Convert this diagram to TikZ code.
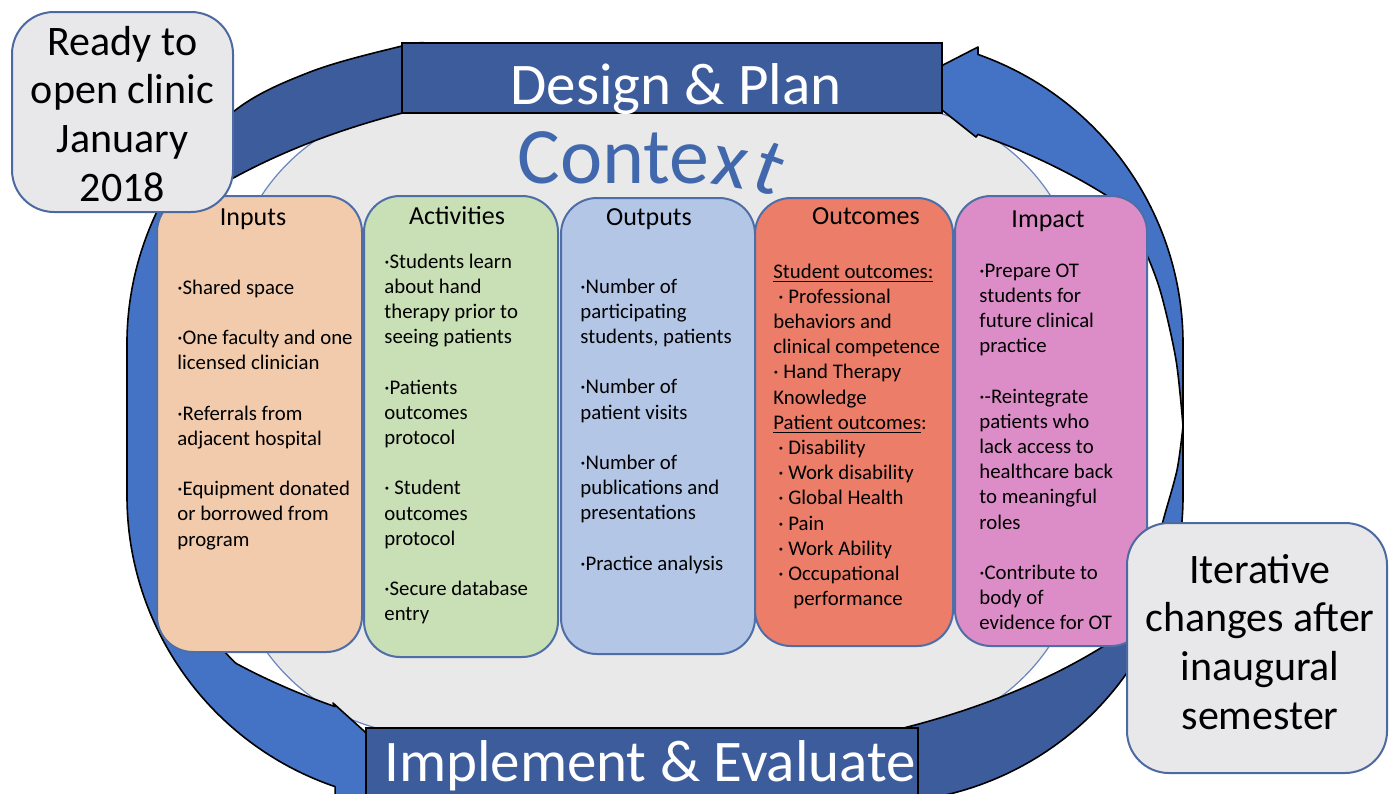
\documentclass[tikz,border=0pt]{standalone}
\usepackage{graphicx}
\usepackage{fontspec}
\setmainfont{Carlito}
\definecolor{bandLight}{HTML}{4472C4}
\definecolor{bandDark}{HTML}{3D5C9C}
\definecolor{ctxGray}{HTML}{E9E9E9}
\definecolor{ctxLine}{HTML}{6A86BC}
\definecolor{noteGray}{HTML}{E8E8EA}
\definecolor{noteLine}{HTML}{4D6AA0}
\definecolor{colLine}{HTML}{4E6EA8}
\definecolor{inFill}{HTML}{F1CBAC}
\definecolor{actFill}{HTML}{C9DFB5}
\definecolor{outFill}{HTML}{B4C6E6}
\definecolor{ocFill}{HTML}{EB7D69}
\definecolor{impFill}{HTML}{DC8DC7}
\definecolor{ctxText}{HTML}{4168AC}
\begin{document}
\begin{tikzpicture}[x=0.5pt,y=-0.5pt,
  band/.style={draw=black, line width=0.8pt, line join=round},
  banner/.style={draw=black, line width=0.8pt, fill=bandDark, inner sep=0pt, rectangle},
  bannertext/.style={text=white, font=\fontsize{29.5}{32}\selectfont, inner sep=0pt, anchor=base},
  colbox/.style={draw=colLine, line width=1pt, rounded corners=18pt, inner sep=0pt, rectangle},
  coltitle/.style={font=\fontsize{13}{15}\selectfont, inner sep=0pt, anchor=base},
  colbody/.style={font=\fontsize{10.4}{12.6}\selectfont, inner sep=0pt, anchor=base west},
  notebox/.style={draw=noteLine, line width=1pt, fill=noteGray, rounded corners=21pt, inner sep=0pt, rectangle},
  notetext/.style={font=\fontsize{21}{24.4}\selectfont, inner sep=0pt, anchor=base},
  ctxword/.style={text=ctxText, font=\fontsize{40}{44}\selectfont, inner sep=0pt, anchor=base west}
]
\useasboundingbox (0,0) rectangle (1390,793);
\clip (0,0) rectangle (1390,793);
\fill[white] (0,0) rectangle (1390,793);

% context area
\draw[draw=ctxLine, line width=0.6pt, fill=ctxGray, rounded corners=100pt] (229,105) rectangle (1083,735);

% top-left dark band
\filldraw[band, fill=bandDark] plot[smooth, tension=0.6] coordinates {(173.6,181.3) (233,112) (310,72) (402,46) (425,43)}
  -- (425,107.5) arc[start angle=247.62, end angle=222.5, x radius=604, y radius=338] -- cycle;
% left arrow
\filldraw[band, fill=bandLight] (173.6,181.3) arc[start angle=212, end angle=180, radius=307] -- (127,496)
  arc[start angle=180, end angle=108.8, radius=307] -- (335,830) -- (405,768) -- (333,703) -- (335,706.6)
  arc[start angle=122, end angle=133.8, x radius=604, y radius=338]
  -- plot[smooth] coordinates {(236.7,664) (205,625) (178,540) (168,420) (175,300) (209.7,191.6)} -- cycle;
% right arrow
\filldraw[band, fill=bandLight] (978,54.4) -- (978,47) -- (908,83) -- (976,137) -- (978,134.4)
  arc[start angle=302.33, end angle=319.6, x radius=604, y radius=338]
  -- plot[smooth] coordinates {(1115,201) (1140,240) (1160,290) (1176,360) (1183,426)}
  -- (1183,344) arc[start angle=0, end angle=-70.6, radius=307] -- cycle;
% lower right crescent
\filldraw[band, fill=bandLight] (1183,426) -- (1183,496) arc[start angle=0, end angle=28, radius=307]
  -- (1117.7,637.3) -- plot[smooth] coordinates {(1117.7,637.3) (1148,580) (1163,521) (1177,470) (1183,426)} -- cycle;
% bottom-right dark band
\filldraw[band, fill=bandDark] (1147.1,640.1) arc[start angle=28, end angle=84.6, radius=307]
  -- (904.7,727.7) arc[start angle=65.55, end angle=40, x radius=604, y radius=338] -- cycle;

% banners
\node[banner, minimum width=270pt, minimum height=35pt] (design) at (672,78) {};
\node[bannertext] (designLbl) at (676,104) {Design \& Plan};
\node[banner, minimum width=276pt, minimum height=36pt] (implement) at (642,764) {};
\node[bannertext] (implementLbl) at (650,781) {Implement \& Evaluate};

% Context word
\node[ctxword] (ctx) at (517,183) {Conte\rotatebox[origin=bl]{-10}{x}\kern-1pt\raisebox{-2pt}{\rotatebox[origin=bl]{-20}{t}}};

% columns
\node[colbox, fill=inFill, minimum width=102.5pt, minimum height=228pt] (inputs) at (259.5,424) {};
\node[colbox, fill=actFill, minimum width=97pt, minimum height=230.5pt] (activities) at (461,426.5) {};
\node[colbox, fill=outFill, minimum width=97pt, minimum height=228pt] (outputs) at (658,426) {};
\node[colbox, fill=ocFill, minimum width=99pt, minimum height=224pt] (outcomes) at (854,422) {};
\node[colbox, fill=impFill, minimum width=96pt, minimum height=225pt] (impact) at (1051,421) {};

\node[coltitle] (inputsT) at (253,225) {Inputs};
\node[coltitle] (activitiesT) at (457,224) {Activities};
\node[coltitle] (outputsT) at (649,225) {Outputs};
\node[coltitle] (outcomesT) at (866,224) {Outcomes};
\node[coltitle] (impactT) at (1048,227) {Impact};

\node[colbody] (inputsB) at (177,294) {\parbox[t]{120pt}{\raggedright
·Shared space\\[12.6pt]
·One faculty and one\\licensed clinician\\[12.6pt]
·Referrals from\\adjacent hospital\\[12.6pt]
·Equipment donated\\or borrowed from\\program}};

\node[colbody] (activitiesB) at (384,268) {\parbox[t]{120pt}{\raggedright
·Students learn\\about hand\\therapy prior to\\seeing patients\\[12.6pt]
·Patients\\outcomes\\protocol\\[12.6pt]
· Student\\outcomes\\protocol\\[12.6pt]
·Secure database\\entry}};

\node[colbody] (outputsB) at (580,293) {\parbox[t]{120pt}{\raggedright
·Number of\\participating\\students, patients\\[12.6pt]
·Number of\\patient visits\\[12.6pt]
·Number of\\publications and\\presentations\\[12.6pt]
·Practice analysis}};

\node[colbody] (outcomesB) at (773,278) {\parbox[t]{120pt}{\raggedright
\underline{Student outcomes:}\\
\hspace*{2.5pt}· Professional\\
behaviors and\\
clinical competence\\
· Hand Therapy\\
Knowledge\\
\underline{Patient outcomes}:\\
\hspace*{2.5pt}· Disability\\
\hspace*{2.5pt}· Work disability\\
\hspace*{2.5pt}· Global Health\\
\hspace*{2.5pt}· Pain\\
\hspace*{2.5pt}· Work Ability\\
\hspace*{2.5pt}· Occupational\\
\hspace*{10pt}performance}};

\node[colbody] (impactB) at (979,277) {\parbox[t]{120pt}{\raggedright
·Prepare OT\\students for\\future clinical\\practice\\[12.6pt]
·-Reintegrate\\patients who\\lack access to\\healthcare back\\to meaningful\\roles\\[12.6pt]
·Contribute to\\body of\\evidence for OT}};

% side notes
\node[notebox, minimum width=110.5pt, minimum height=100pt] (ready) at (122.5,112) {};
\node[notetext] (readyT) at (122.5,55) {\parbox[t]{110pt}{\centering Ready to\\open clinic\\January\\2018}};
\node[notebox, minimum width=130pt, minimum height=125pt] (iterative) at (1257,648) {};
\node[notetext] (iterativeT) at (1260,583) {\parbox[t]{130pt}{\centering Iterative\\changes after\\inaugural\\semester}};
\end{tikzpicture}
\end{document}
